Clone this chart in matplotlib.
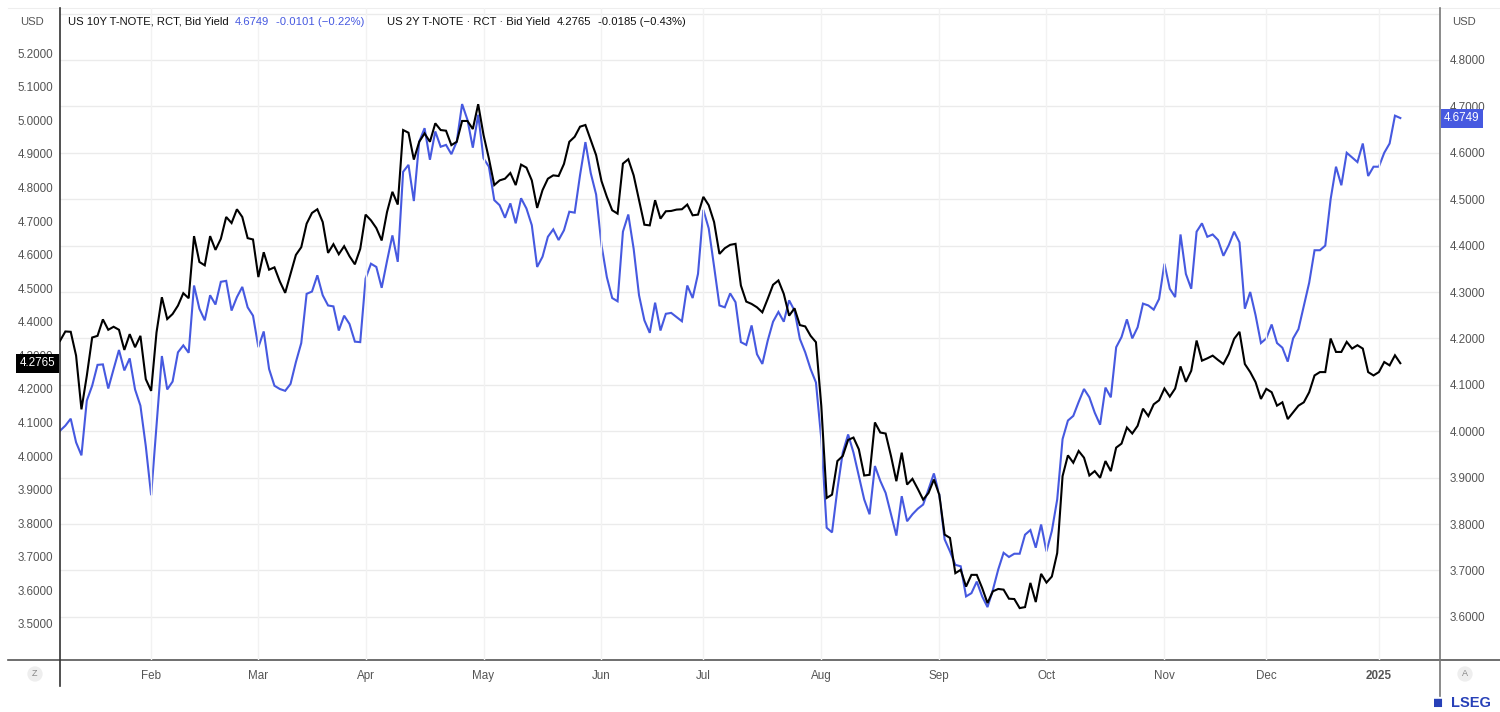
import numpy as np
import pandas as pd
import matplotlib
matplotlib.use("Agg")
import matplotlib.pyplot as plt
from matplotlib.lines import Line2D

plt.rcParams['font.family'] = ['Liberation Sans', 'DejaVu Sans']

# ---------------- data ----------------
holidays = ['2024-01-15', '2024-02-19', '2024-03-29', '2024-05-27', '2024-06-19',
            '2024-07-04', '2024-09-02', '2024-10-14', '2024-11-11', '2024-11-28',
            '2024-12-25', '2025-01-01']
dates = pd.bdate_range('2024-01-08', '2025-01-08', freq='C', holidays=holidays)

us2y = [4.343, 4.371, 4.370, 4.299, 4.139, 4.239, 4.353, 4.358, 4.407, 4.376,
        4.385, 4.376, 4.316, 4.363, 4.324, 4.358, 4.229, 4.194, 4.368, 4.473,
        4.408, 4.423, 4.448, 4.485, 4.470, 4.655, 4.578, 4.568, 4.655, 4.614,
        4.647, 4.712, 4.694, 4.735, 4.712, 4.649, 4.645, 4.533, 4.607, 4.555,
        4.562, 4.520, 4.486, 4.543, 4.599, 4.622, 4.692, 4.724, 4.735, 4.697,
        4.605, 4.631, 4.601, 4.625, 4.595, 4.571, 4.617, 4.719, 4.702, 4.679,
        4.642, 4.727, 4.787, 4.749, 4.971, 4.963, 4.883, 4.936, 4.961, 4.936,
        4.991, 4.971, 4.969, 4.926, 4.936, 4.998, 4.998, 4.974, 5.048, 4.956,
        4.886, 4.807, 4.821, 4.826, 4.843, 4.807, 4.868, 4.859, 4.821, 4.739,
        4.792, 4.826, 4.836, 4.834, 4.870, 4.936, 4.951, 4.981, 4.986, 4.941,
        4.896, 4.819, 4.772, 4.732, 4.722, 4.871, 4.884, 4.836, 4.762, 4.689,
        4.687, 4.762, 4.707, 4.729, 4.730, 4.734, 4.735, 4.749, 4.717, 4.719,
        4.772, 4.747, 4.697, 4.602, 4.619, 4.629, 4.632, 4.508, 4.460, 4.453,
        4.443, 4.428, 4.468, 4.510, 4.523, 4.483, 4.418, 4.440, 4.390, 4.386,
        4.358, 4.339, 4.149, 3.875, 3.885, 3.985, 4.000, 4.048, 4.055, 4.020,
        3.942, 3.944, 4.100, 4.070, 4.067, 4.000, 3.925, 4.010, 3.915, 3.932,
        3.902, 3.870, 3.890, 3.930, 3.885, 3.766, 3.756, 3.651, 3.661, 3.611,
        3.646, 3.646, 3.607, 3.562, 3.597, 3.604, 3.602, 3.575, 3.574, 3.547,
        3.550, 3.622, 3.565, 3.649, 3.623, 3.641, 3.711, 3.940, 4.002, 3.980,
        4.015, 3.995, 3.942, 3.955, 3.935, 3.985, 3.955, 4.025, 4.037, 4.085,
        4.067, 4.090, 4.141, 4.119, 4.154, 4.166, 4.201, 4.177, 4.201, 4.267,
        4.221, 4.254, 4.344, 4.284, 4.291, 4.299, 4.286, 4.274, 4.304, 4.349,
        4.370, 4.274, 4.250, 4.220, 4.170, 4.200, 4.190, 4.150, 4.160, 4.110,
        4.130, 4.150, 4.160, 4.190, 4.240, 4.250, 4.250, 4.350, 4.310, 4.310,
        4.340, 4.320, 4.330, 4.320, 4.250, 4.240, 4.250, 4.280, 4.270, 4.300,
        4.2765]

us10y = [4.001, 4.012, 4.027, 3.976, 3.948, 4.066, 4.098, 4.143, 4.144, 4.092,
         4.134, 4.175, 4.131, 4.157, 4.090, 4.055, 3.968, 3.862, 4.012, 4.162,
         4.090, 4.107, 4.170, 4.185, 4.169, 4.314, 4.264, 4.239, 4.293, 4.273,
         4.322, 4.324, 4.260, 4.289, 4.311, 4.267, 4.249, 4.181, 4.215, 4.134,
         4.098, 4.091, 4.087, 4.102, 4.149, 4.190, 4.296, 4.301, 4.336, 4.293,
         4.271, 4.269, 4.217, 4.249, 4.231, 4.193, 4.192, 4.329, 4.361, 4.354,
         4.309, 4.367, 4.422, 4.365, 4.559, 4.574, 4.496, 4.624, 4.653, 4.585,
         4.646, 4.613, 4.617, 4.597, 4.624, 4.705, 4.671, 4.611, 4.682, 4.588,
         4.570, 4.498, 4.487, 4.460, 4.491, 4.448, 4.502, 4.480, 4.444, 4.354,
         4.376, 4.419, 4.435, 4.412, 4.433, 4.473, 4.471, 4.552, 4.623, 4.556,
         4.510, 4.401, 4.332, 4.287, 4.280, 4.430, 4.467, 4.393, 4.293, 4.239,
         4.212, 4.277, 4.217, 4.253, 4.255, 4.246, 4.237, 4.314, 4.287, 4.339,
         4.477, 4.437, 4.355, 4.271, 4.267, 4.297, 4.278, 4.192, 4.186, 4.228,
         4.166, 4.145, 4.195, 4.236, 4.257, 4.236, 4.282, 4.260, 4.199, 4.170,
         4.134, 4.105, 3.983, 3.792, 3.782, 3.875, 3.954, 3.993, 3.954, 3.903,
         3.853, 3.821, 3.925, 3.893, 3.867, 3.821, 3.775, 3.860, 3.806, 3.821,
         3.833, 3.842, 3.875, 3.909, 3.864, 3.767, 3.741, 3.712, 3.709, 3.644,
         3.651, 3.676, 3.644, 3.621, 3.658, 3.702, 3.738, 3.729, 3.736, 3.736,
         3.777, 3.787, 3.749, 3.799, 3.741, 3.785, 3.853, 3.983, 4.023, 4.033,
         4.063, 4.091, 4.073, 4.040, 4.014, 4.094, 4.073, 4.181, 4.203, 4.241,
         4.200, 4.224, 4.275, 4.271, 4.262, 4.285, 4.361, 4.307, 4.289, 4.424,
         4.339, 4.307, 4.430, 4.448, 4.419, 4.424, 4.412, 4.378, 4.401, 4.430,
         4.407, 4.264, 4.300, 4.250, 4.190, 4.200, 4.230, 4.190, 4.180, 4.150,
         4.200, 4.220, 4.270, 4.320, 4.390, 4.390, 4.400, 4.500, 4.570, 4.530,
         4.600, 4.590, 4.580, 4.620, 4.550, 4.570, 4.570, 4.600, 4.620, 4.680,
         4.6749]

month_labels = ['Feb', 'Mar', 'Apr', 'May', 'Jun', 'Jul', 'Aug', 'Sep', 'Oct',
                'Nov', 'Dec', '2025']
left_ticks = [3.5, 3.6, 3.7, 3.8, 3.9, 4.0, 4.1, 4.2, 4.3, 4.4, 4.5, 4.6, 4.7,
              4.8, 4.9, 5.0, 5.1, 5.2]
right_ticks = [3.6, 3.7, 3.8, 3.9, 4.0, 4.1, 4.2, 4.3, 4.4, 4.5, 4.6, 4.7, 4.8, 4.9]

name_10y = 'US 10Y T-NOTE, RCT, Bid Yield'
name_2y = 'US 2Y T-NOTE \u00b7 RCT \u00b7 Bid Yield'
last_10y, chg_10y, pct_10y = '4.6749', '-0.0101', '(\u22120.22%)'
last_2y, chg_2y, pct_2y = '4.2765', '-0.0185', '(\u22120.43%)'

# ---------------- figure ----------------
W, H = 1500, 712
BLUE = '#4659e0'
GREY = '#555555'
fig = plt.figure(figsize=(W / 100, H / 100), dpi=100)
L, R, T, B = 60, 1440, 8, 660
ax = fig.add_axes([L / W, 1 - B / H, (R - L) / W, (B - T) / H])
ax2 = ax.twinx()
ax.set_zorder(2)
ax2.set_zorder(1)
ax.patch.set_visible(False)
ax2.patch.set_visible(True)
ax2.patch.set_facecolor('white')

n = min(len(dates), len(us2y), len(us10y))
x = np.arange(n)
ax2.plot(x, us10y[:n], color=BLUE, lw=1.5, solid_joinstyle='miter')
ax.plot(x, us2y[:n], color='black', lw=1.5, solid_joinstyle='miter')

month_idx = [i for i in range(1, len(dates)) if dates[i].month != dates[i - 1].month]
ax.set_xlim(0, 257.4)
ax.set_ylim(3.3924, 5.3345)
ax2.set_ylim(3.507, 4.912)

ax.set_xticks(month_idx)
ax.set_xticklabels(month_labels)
for lab in ax.get_xticklabels():
    if lab.get_text() == '2025':
        lab.set_fontweight('bold')
        lab.set_color('#222222')
ax.set_yticks(left_ticks)
ax.set_yticklabels([f'{v:.4f}' for v in left_ticks])
ax2.set_yticks(right_ticks)
ax2.set_yticklabels([f'{v:.4f}' if v < 4.85 else '' for v in right_ticks])

ax.tick_params(axis='both', length=0, labelsize=8.4, colors=GREY)
ax.tick_params(axis='x', pad=7)
ax.tick_params(axis='y', pad=5)
ax2.tick_params(axis='y', length=0, labelsize=8.4, colors=GREY, pad=7)
ax.grid(axis='x', color='#f2f2f2', lw=1.0)
ax.grid(axis='y', visible=False)
ax2.grid(axis='y', color='#ebebeb', lw=1.0)
for a in (ax, ax2):
    for s in a.spines.values():
        s.set_visible(False)

# frame lines
def px_line(x0, y0, x1, y1, color, lw=1.0):
    fig.add_artist(Line2D([x0 / W, x1 / W], [1 - y0 / H, 1 - y1 / H],
                          transform=fig.transFigure, color=color, lw=lw))

px_line(8, 8, 1500, 8, '#eeeeee', 0.8)
px_line(8, 660, 1500, 660, '#555555', 1.2)
px_line(60, 8, 60, 686, '#333333', 1.2)
px_line(1440, 8, 1440, 696, '#777777', 1.2)

# last value boxes
ax.annotate(last_2y, xy=(0, float(last_2y)), xycoords=('axes fraction', 'data'),
            xytext=(-3.5, 0), textcoords='offset points', ha='right', va='center',
            color='white', fontsize=8.4, zorder=10, annotation_clip=False,
            bbox=dict(boxstyle='square,pad=0.3', fc='black', ec='none'))
ax2.annotate(last_10y, xy=(1, float(last_10y)), xycoords=('axes fraction', 'data'),
             xytext=(3.0, 0), textcoords='offset points', ha='left', va='center',
             color='white', fontsize=8.4, zorder=10, annotation_clip=False,
             bbox=dict(boxstyle='square,pad=0.3', fc=BLUE, ec='none'))

# header texts
renderer = fig.canvas.get_renderer()

def ftxt(px, py, s, **kw):
    kw.setdefault('fontsize', 8.1)
    kw.setdefault('va', 'center')
    return fig.text(px / W, 1 - py / H, s, **kw)

def seq(px, py, parts, gap=6.5):
    cur = px
    for s, col in parts:
        t = ftxt(cur, py, s, color=col)
        bb = t.get_window_extent(renderer=renderer)
        cur += bb.width + gap

ftxt(20, 22, 'USD', color=GREY)
ftxt(1452, 22, 'USD', color=GREY)
seq(68, 22, [(name_10y, '#111111'), (last_10y, BLUE), (f'{chg_10y} {pct_10y}', BLUE)])
seq(387, 22, [(name_2y, '#111111'), (last_2y, '#111111'), (f'{chg_2y} {pct_2y}', '#111111')])

# corner buttons
ftxt(35, 674, 'Z', color='#888888', fontsize=6.5, ha='center',
     bbox=dict(boxstyle='circle,pad=0.35', fc='#eeeeee', ec='none'))
ftxt(1465, 674, 'A', color='#888888', fontsize=6.5, ha='center',
     bbox=dict(boxstyle='circle,pad=0.35', fc='#eeeeee', ec='none'))

# logo
ftxt(1491, 703, 'LSEG', color='#2740b8', fontsize=10.5, fontweight='bold', ha='right')
ftxt(1438, 703, '\u25a0', color='#2740b8', fontsize=12, ha='center')

fig.savefig('out.png', dpi=100)
